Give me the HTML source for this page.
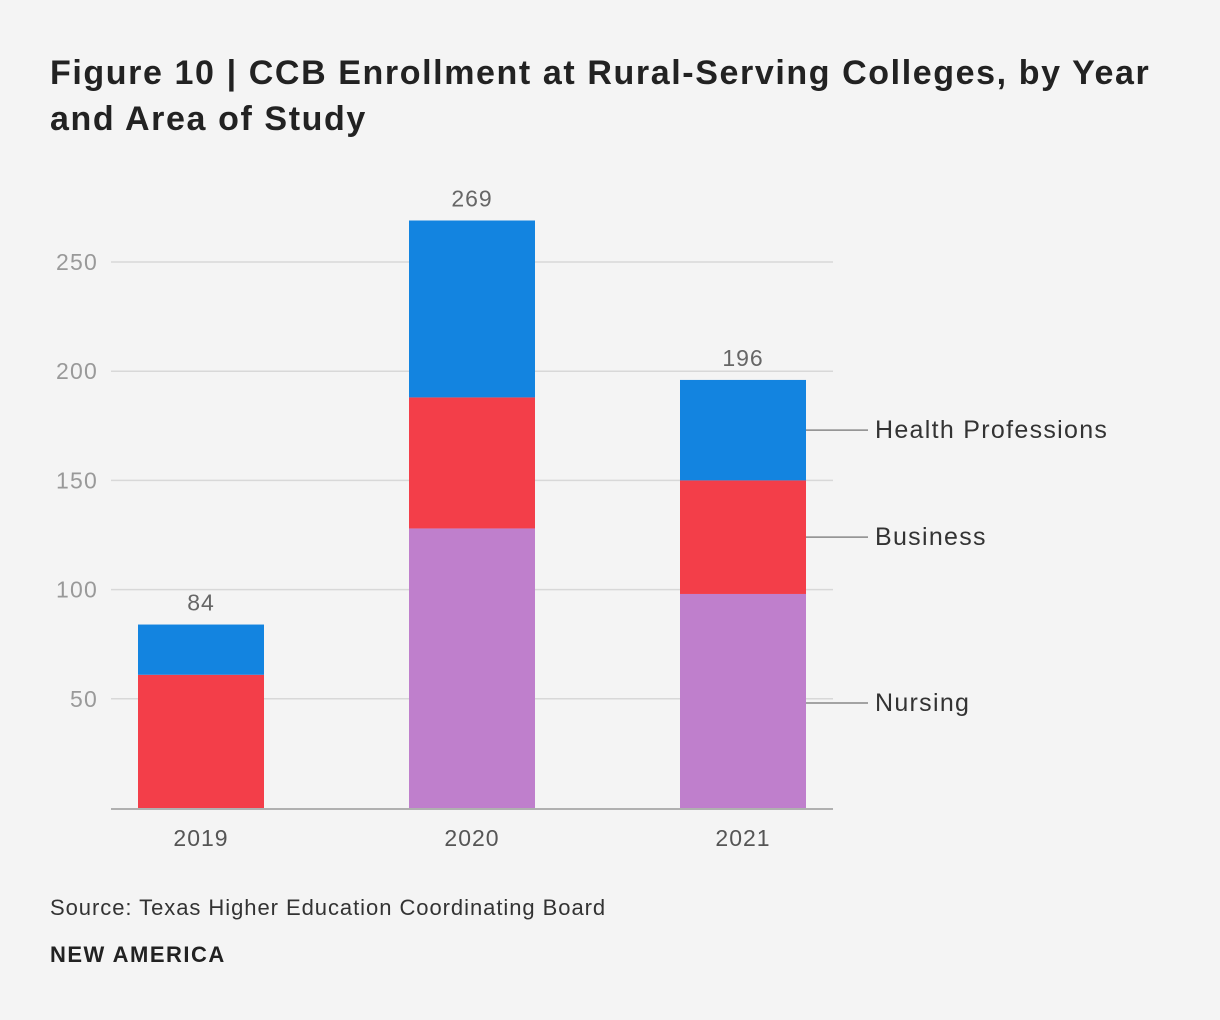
<!DOCTYPE html>
<html><head><meta charset="utf-8"><style>
html,body{margin:0;padding:0;background:#f4f4f4;}
body{width:1220px;height:1020px;position:relative;font-family:"Liberation Sans",sans-serif;overflow:hidden;}
#title{position:absolute;left:50px;top:50px;width:1120px;font-size:34px;font-weight:bold;line-height:46px;color:#222;margin:0;letter-spacing:1.6px;}
#source{position:absolute;left:50px;top:895px;font-size:22px;color:#333;letter-spacing:0.95px;}
#brand{position:absolute;left:50px;top:942px;font-size:22px;font-weight:bold;color:#222;letter-spacing:1.5px;}
</style></head><body>
<h1 id="title">Figure 10 | CCB Enrollment at Rural-Serving Colleges, by Year and Area of Study</h1>
<svg id="chart" width="1220" height="1020" style="position:absolute;left:0;top:0"></svg>
<div id="source">Source: Texas Higher Education Coordinating Board</div>
<div id="brand">NEW AMERICA</div>
<script>
const years = ["2019","2020","2021"];
const nursing = [0,128,98];
const business = [61,60,52];
const health = [23,81,46];
const totals = [84,269,196];
const yTicks = [50,100,150,200,250];
const seriesNames = ["Nursing","Business","Health Professions"];

const NS="http://www.w3.org/2000/svg";
const svg=document.getElementById('chart');
const y0=808, pxPer=(808-262)/250;
const y=v=>y0-v*pxPer;
const xc=i=>201+i*271;
const bw=126;
const colors=["#bf7fcc","#f33e49","#1384e0"];
function mk(t,a){const e=document.createElementNS(NS,t);for(const k in a)e.setAttribute(k,a[k]);svg.appendChild(e);return e;}
yTicks.forEach(v=>{
  const l=mk('line',{x1:111,x2:833,y1:y(v),y2:y(v),stroke:'#d8d8d8','stroke-width':1.5});
  
  
  const t=mk('text',{x:98,y:y(v)+8,'text-anchor':'end','font-size':23,'letter-spacing':1.2,fill:'#999','font-family':'Liberation Sans, sans-serif'});
  t.textContent=v;
  
  
});
const series=[nursing,business,health];
years.forEach((yr,i)=>{
  let base=0;
  series.forEach((s,k)=>{
    if(s[i]>0){
      const r=mk('rect',{x:xc(i)-bw/2,y:y(base+s[i]),width:bw,height:s[i]*pxPer,fill:colors[k]});
      
      
    }
    base+=s[i];
  });
  const t=mk('text',{x:xc(i),y:y(totals[i])-14,'text-anchor':'middle','font-size':23,'letter-spacing':1,fill:'#666','font-family':'Liberation Sans, sans-serif'});
  t.textContent=totals[i];
  
  
  const xl=mk('text',{x:xc(i),y:846,'text-anchor':'middle','font-size':23,'letter-spacing':1,fill:'#555','font-family':'Liberation Sans, sans-serif'});
  xl.textContent=yr;
  
  
});
const ax=mk('line',{x1:111,x2:833,y1:y0+1,y2:y0+1,stroke:'#999','stroke-width':1.5});


const last=years.length-1;
let b=0;
series.forEach((s,k)=>{
  let mid=y(b+s[last]/2);
  if(k===0) mid=y(b+s[last]/2)+2;
  b+=s[last];
  const l=mk('line',{x1:xc(last)+bw/2,x2:868,y1:mid,y2:mid,stroke:'#888','stroke-width':1.5});
  
  
  const t=mk('text',{x:875,y:mid+8,'font-size':25,'letter-spacing':1.3,fill:'#333','font-family':'Liberation Sans, sans-serif'});
  t.textContent=seriesNames[k];
  
  
});
</script>
</body></html>
